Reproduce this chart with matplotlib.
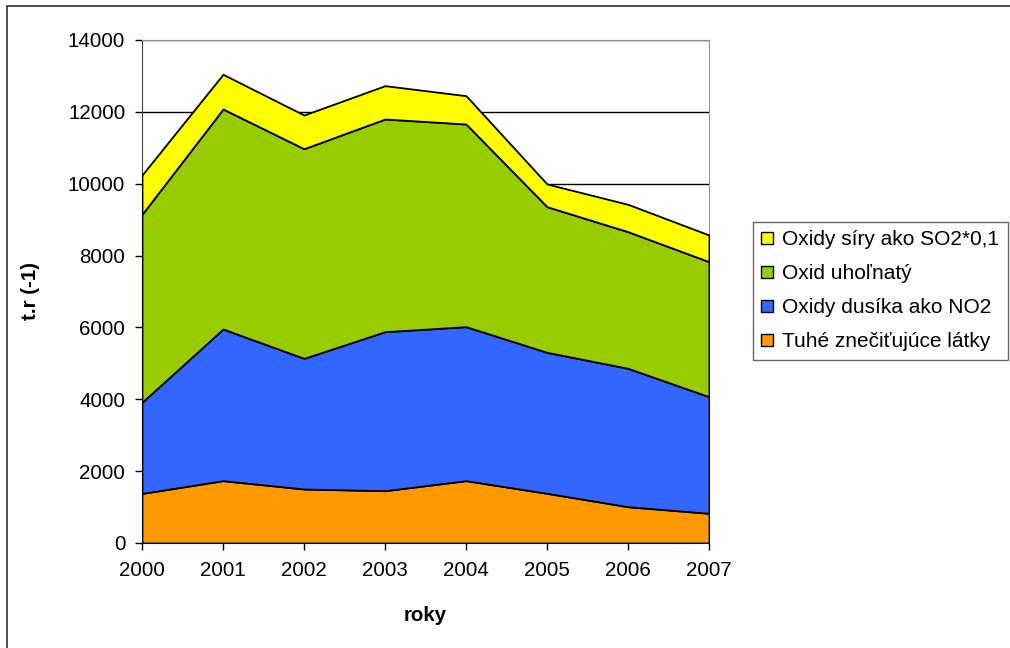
import matplotlib
matplotlib.use('Agg')
import matplotlib.pyplot as plt
from matplotlib.patches import Rectangle, Patch

# data (t/rok)
roky = [2000, 2001, 2002, 2003, 2004, 2005, 2006, 2007]
tuhe = [1380, 1735, 1503, 1456, 1735, 1383, 1011, 826]
no2 = [2536, 4221, 3637, 4426, 4286, 3924, 3851, 3247]
co = [5232, 6123, 5835, 5919, 5641, 4054, 3803, 3757]
so2 = [1094, 966, 937, 928, 788, 631, 761, 742]

nazvy = ['Tuhé znečiťujúce látky', 'Oxidy dusíka ako NO2',
         'Oxid uhoľnatý', 'Oxidy síry ako SO2*0,1']
farby = ['#FF9900', '#3366FF', '#99CC00', '#FFFF00']

plt.rcParams['font.family'] = ['Liberation Sans', 'DejaVu Sans']
fs = 14.8

fig = plt.figure(figsize=(10.1, 6.48), dpi=100)
ax = fig.add_axes([142/1010, 1 - 543/648, (709 - 142)/1010, (543 - 40)/648])

ax.stackplot(roky, tuhe, no2, co, so2, colors=farby,
             edgecolor='black', linewidth=1.3, zorder=3)

ax.set_xlim(2000, 2007)
ax.set_ylim(0, 14000)
ax.set_xticks(roky)
ax.set_yticks(range(0, 14001, 2000))
ax.yaxis.grid(True, color='black', linewidth=1)
ax.set_axisbelow(True)
ax.tick_params(labelsize=fs, direction='out', length=5, width=1)
ax.tick_params(axis='y', pad=7)
ax.tick_params(axis='x', pad=8)

for s in ['top', 'right']:
    ax.spines[s].set_color('#909090')
for s in ['left', 'bottom']:
    ax.spines[s].set_color('#404040')

ax.set_xlabel('roky', fontsize=fs, fontweight='bold', labelpad=19)
ax.set_ylabel('t.r (-1)', fontsize=fs, fontweight='bold', labelpad=20)

handles = [Patch(facecolor=c, edgecolor='black') for c in farby][::-1]
leg = fig.legend(handles, nazvy[::-1], loc='upper left',
                 bbox_to_anchor=(753/1010, 1 - 222/648), fontsize=15,
                 frameon=True, fancybox=False, handlelength=0.55,
                 handleheight=0.55, handletextpad=0.45, labelspacing=0.72,
                 borderpad=0.4, borderaxespad=0)
leg.get_frame().set_edgecolor('#404040')
leg.get_frame().set_linewidth(1)

# outer chart border
fig.patches.append(Rectangle((7/1010, -0.1), 1.1, 1.1 - 6/648,
                             transform=fig.transFigure, fill=False,
                             edgecolor='#303030', linewidth=1.2))

fig.savefig('out.png', dpi=100)
